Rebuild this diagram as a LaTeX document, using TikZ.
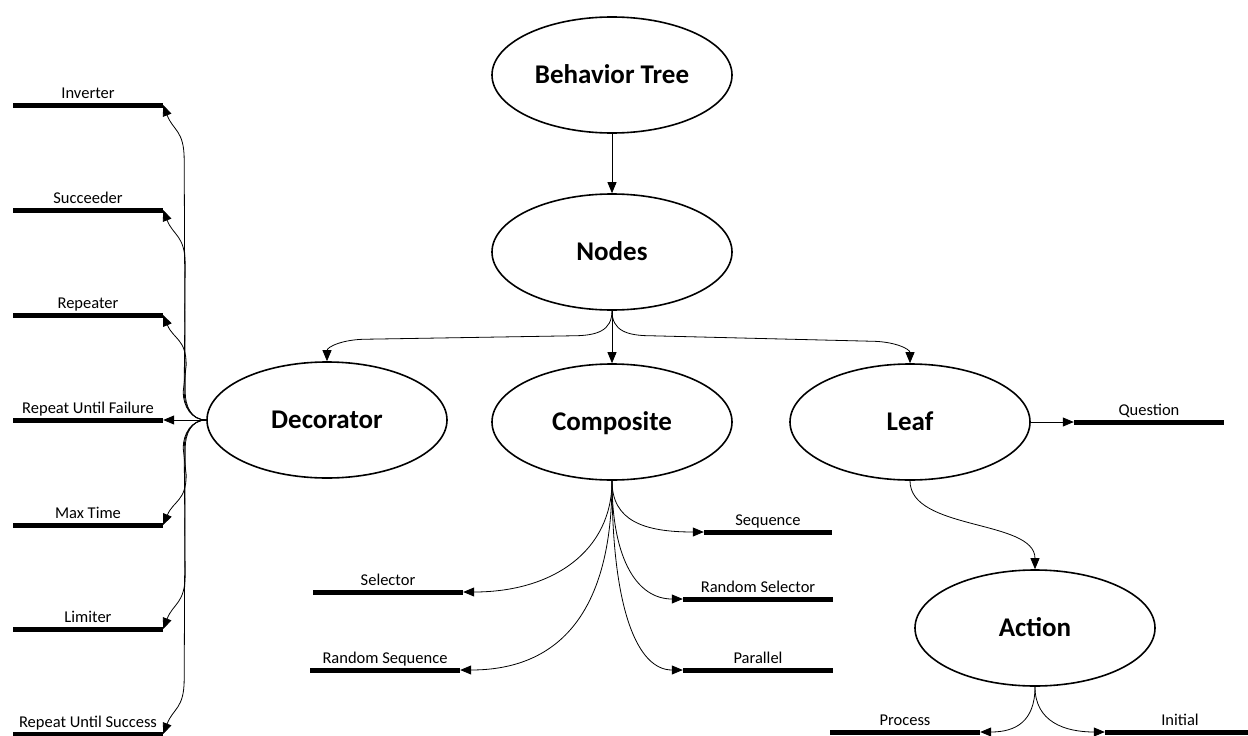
\documentclass[tikz,border=0pt]{standalone}
\usepackage{fontspec}
\setmainfont{Carlito}
\usetikzlibrary{shapes.geometric,arrows.meta,calc}

\tikzset{
    bignode/.style={ellipse, draw, line width=1.6pt, minimum width=240pt, minimum height=116pt,
        inner sep=0pt, text height=17pt, text depth=0pt, font=\fontsize{27}{32}\selectfont\bfseries},
    bar/.style={rectangle, fill=black, minimum width=150pt, minimum height=5pt, inner sep=0pt},
    lbl/.style={font=\fontsize{16.5}{19}\selectfont, inner sep=0pt, text depth=0pt},
    conn/.style={line width=0.8pt, -{Triangle[length=11pt,width=9pt]}}
}

\begin{document}
\begin{tikzpicture}[x=1pt, y=-1pt, label distance=4pt, every label/.append style={lbl}]
    \useasboundingbox (0,0) rectangle (1248,736);

    \node[bignode] (bt) at (612,75) {Behavior Tree};
    \node[bignode] (nodes) at (612,252) {Nodes};
    \node[bignode] (decorator) at (327,420) {Decorator};
    \node[bignode] (composite) at (612,422) {Composite};
    \node[bignode] (leaf) at (910,422) {Leaf};
    \node[bignode] (action) at (1035,628) {Action};

    \node[bar, label=above:Inverter] (inverter) at (88,105) {};
    \node[bar, label=above:Succeeder] (succeeder) at (88,210) {};
    \node[bar, label=above:Repeater] (repeater) at (88,315) {};
    \node[bar, label=above:Repeat Until Failure] (untilfail) at (88,420) {};
    \node[bar, label=above:Max Time] (maxtime) at (88,525) {};
    \node[bar, label=above:Limiter] (limiter) at (88,629) {};
    \node[bar, label=above:Repeat Until Success] (untilsucc) at (88,734) {};

    \node[bar, minimum width=128pt, label=above:Sequence] (sequence) at (768,532) {};
    \node[bar, label=above:Random Selector] (randsel) at (758,599) {};
    \node[bar, label=above:Parallel] (parallel) at (758,670) {};
    \node[bar, label=above:Selector] (selector) at (388,592) {};
    \node[bar, label=above:Random Sequence] (randseq) at (385,670) {};

    \node[bar, label=above:Question] (question) at (1149,422) {};
    \node[bar, label=above:Process] (process) at (905,732) {};
    \node[bar, label=above:Initial] (initial) at (1180,732) {};

    \draw[conn] (bt) -- (nodes);
    \draw[conn] (nodes.south) .. controls +(0,20) and +(25,0) .. ($(nodes.south)+(-40,25)$)
        -- ($(decorator.north)+(40,-22)$) .. controls +(-25,0) and +(0,-14) .. (decorator.north);
    \draw[conn] (nodes) -- (composite);
    \draw[conn] (nodes.south) .. controls +(0,20) and +(-25,0) .. ($(nodes.south)+(40,25)$)
        -- ($(leaf.north)+(-40,-22)$) .. controls +(25,0) and +(0,-14) .. (leaf.north);

    \draw[conn] (decorator.west) .. controls +(-15,0) and +(0,14) .. ($(decorator.west)+(-21,-28)$)
        -- ($(inverter.east)+(21,55)$) .. controls +(0,-30) and +(10,26) .. (inverter.east);
    \draw[conn] (decorator.west) .. controls +(-15,0) and +(0,14) .. ($(decorator.west)+(-22,-28)$)
        -- ($(succeeder.east)+(22,55)$) .. controls +(0,-30) and +(10,26) .. (succeeder.east);
    \draw[conn] (decorator.west) .. controls +(-15,0) and +(0,14) .. ($(decorator.west)+(-23,-28)$)
        -- ($(repeater.east)+(23,50)$) .. controls +(0,-26) and +(10,24) .. (repeater.east);
    \draw[conn] (decorator.west) -- (untilfail.east);
    \draw[conn] (decorator.west) .. controls +(-15,0) and +(0,-14) .. ($(decorator.west)+(-23,28)$)
        -- ($(maxtime.east)+(23,-50)$) .. controls +(0,26) and +(10,-24) .. (maxtime.east);
    \draw[conn] (decorator.west) .. controls +(-15,0) and +(0,-14) .. ($(decorator.west)+(-22,28)$)
        -- ($(limiter.east)+(22,-55)$) .. controls +(0,30) and +(10,-26) .. (limiter.east);
    \draw[conn] (decorator.west) .. controls +(-15,0) and +(0,-14) .. ($(decorator.west)+(-21,28)$)
        -- ($(untilsucc.east)+(21,-55)$) .. controls +(0,30) and +(10,-26) .. (untilsucc.east);

    \draw[conn] (composite.south) .. controls +(0,40) and +(-60,0) .. (sequence.west);
    \draw[conn] (composite.south) .. controls +(0,80) and +(-45,0) .. (randsel.west);
    \draw[conn] (composite.south) .. controls +(0,130) and +(-45,0) .. (parallel.west);
    \draw[conn] (composite.south) .. controls +(0,70) and +(90,0) .. (selector.east);
    \draw[conn] (composite.south) .. controls +(0,130) and +(100,0) .. (randseq.east);

    \draw[conn] (leaf.east) -- (question.west);
    \draw[conn] (leaf.south) .. controls +(0,50) and +(0,-50) .. (action.north);
    \draw[conn] (action.south) .. controls +(0,35) and +(35,0) .. (process.east);
    \draw[conn] (action.south) .. controls +(0,35) and +(-40,0) .. (initial.west);
\end{tikzpicture}
\end{document}
